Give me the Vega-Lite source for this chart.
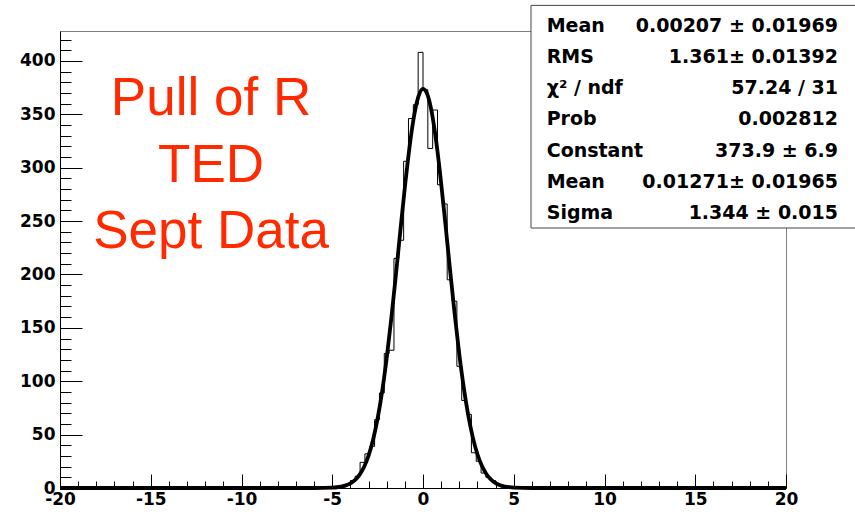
{
  "$schema": "https://vega.github.io/schema/vega-lite/v6.json",
  "width": 726,
  "height": 457,
  "autosize": "none",
  "padding": {"left": 60, "top": 31, "right": 69, "bottom": 27},
  "background": "white",
  "config": {
    "view": {"stroke": "#7f7f7f", "strokeWidth": 1},
    "axis": {"grid": false, "title": null, "domainColor": "#000", "tickColor": "#000", "labelColor": "#000", "labelFont": "DejaVu Sans", "labelFontWeight": "bold", "labelFontSize": 17}
  },
  "datasets": {
    "hist": [{"edge":-20,"count":0},{"edge":-4.8,"count":1},{"edge":-4.5333,"count":2},{"edge":-4.2667,"count":3},{"edge":-4.0,"count":7},{"edge":-3.7333,"count":11},{"edge":-3.4667,"count":24},{"edge":-3.2,"count":32},{"edge":-2.9333,"count":39},{"edge":-2.6667,"count":64},{"edge":-2.4,"count":89},{"edge":-2.1333,"count":126},{"edge":-1.8667,"count":129},{"edge":-1.6,"count":215},{"edge":-1.3333,"count":232},{"edge":-1.0667,"count":306},{"edge":-0.8,"count":346},{"edge":-0.5333,"count":359},{"edge":-0.2667,"count":408},{"edge":0,"count":373},{"edge":0.2667,"count":318},{"edge":0.5333,"count":354},{"edge":0.8,"count":284},{"edge":1.0667,"count":266},{"edge":1.3333,"count":195},{"edge":1.6,"count":175},{"edge":1.8667,"count":114},{"edge":2.1333,"count":82},{"edge":2.4,"count":69},{"edge":2.6667,"count":33},{"edge":2.9333,"count":25},{"edge":3.2,"count":14},{"edge":3.4667,"count":10},{"edge":3.7333,"count":7},{"edge":4.0,"count":3},{"edge":4.2667,"count":1},{"edge":4.5333,"count":1},{"edge":4.8,"count":0},{"edge":20,"count":0}],
    "fit": [{"x":-20,"y":0},{"x":-6,"y":0.02},{"x":-5,"y":0.36},{"x":-4.75,"y":0.70},{"x":-4.5,"y":1.33},{"x":-4.25,"y":2.45},{"x":-4,"y":4.34},{"x":-3.75,"y":7.43},{"x":-3.5,"y":12.29},{"x":-3.25,"y":19.64},{"x":-3,"y":30.31},{"x":-2.75,"y":45.2},{"x":-2.5,"y":65.12},{"x":-2.25,"y":90.63},{"x":-2,"y":121.84},{"x":-1.75,"y":158.2},{"x":-1.5,"y":198.46},{"x":-1.25,"y":240.5},{"x":-1,"y":281.5},{"x":-0.75,"y":318.3},{"x":-0.5,"y":347.66},{"x":-0.25,"y":366.83},{"x":0,"y":373.88},{"x":0.25,"y":368.12},{"x":0.5,"y":350.11},{"x":0.75,"y":321.67},{"x":1,"y":285.47},{"x":1.25,"y":244.76},{"x":1.5,"y":202.7},{"x":1.75,"y":162.15},{"x":2,"y":125.31},{"x":2.25,"y":93.55},{"x":2.5,"y":67.46},{"x":2.75,"y":46.99},{"x":3,"y":31.62},{"x":3.25,"y":20.55},{"x":3.5,"y":12.91},{"x":3.75,"y":7.83},{"x":4,"y":4.59},{"x":4.25,"y":2.6},{"x":4.5,"y":1.42},{"x":4.75,"y":0.75},{"x":5,"y":0.38},{"x":6,"y":0.02},{"x":20,"y":0}],
    "stats": [{"line":1,"stat":"Mean","value":"0.00207 ± 0.01969"},{"line":2,"stat":"RMS","value":"1.361± 0.01392"},{"line":3,"stat":"χ² / ndf","value":"57.24 / 31"},{"line":4,"stat":"Prob","value":"0.002812"},{"line":5,"stat":"Constant","value":"373.9 ± 6.9"},{"line":6,"stat":"Mean","value":"0.01271± 0.01965"},{"line":7,"stat":"Sigma","value":"1.344 ± 0.015"}]
  },
  "layer": [
    {
      "layer": [
        {
          "data": {"name": "hist"},
          "mark": {"type": "line", "interpolate": "step-after", "color": "#000", "strokeWidth": 1},
          "encoding": {
            "x": {"field": "edge", "type": "quantitative", "scale": {"domain": [-20, 20], "nice": false, "zero": false},
                  "axis": {"orient": "bottom", "values": [-20,-15,-10,-5,0,5,10,15,20], "tickSize": -14, "labelPadding": 17, "labelFlush": false,
                           "labelExpr": "datum.value < 0 ? '-' + abs(datum.value) : '' + datum.value"}},
            "y": {"field": "count", "type": "quantitative", "scale": {"domain": [0, 428], "nice": false},
                  "axis": {"orient": "left", "values": [0,50,100,150,200,250,300,350,400], "tickSize": -22, "labelPadding": 27}}
          }
        },
        {
          "data": {"name": "fit"},
          "mark": {"type": "line", "interpolate": "monotone", "color": "#000", "strokeWidth": 3.8},
          "encoding": {
            "x": {"field": "x", "type": "quantitative",
                  "axis": {"orient": "bottom", "values": [-20,-19,-18,-17,-16,-15,-14,-13,-12,-11,-10,-9,-8,-7,-6,-5,-4,-3,-2,-1,0,1,2,3,4,5,6,7,8,9,10,11,12,13,14,15,16,17,18,19,20], "tickSize": -7, "labels": false, "domain": false}},
            "y": {"field": "y", "type": "quantitative",
                  "axis": {"orient": "left", "values": [10,20,30,40,60,70,80,90,110,120,130,140,160,170,180,190,210,220,230,240,260,270,280,290,310,320,330,340,360,370,380,390,410,420], "tickSize": -11, "labels": false, "domain": false}}
          }
        },
        {
          "data": {"values": [{"note": "Pull of R\nTED\nSept Data"}]},
          "mark": {"type": "text", "font": "Liberation Sans", "fontSize": 53, "color": "#ff2a00", "align": "center", "baseline": "alphabetic", "lineBreak": "\n", "lineHeight": 66.5},
          "encoding": {
            "x": {"datum": -11.68, "axis": null},
            "y": {"datum": 349.3, "axis": null},
            "text": {"field": "note"}
          }
        },
        {
          "data": {"values": [{"box": "stats"}]},
          "mark": {"type": "rect", "fill": "white", "stroke": "#444", "strokeWidth": 1},
          "encoding": {
            "x": {"datum": 5.95, "axis": null},
            "x2": {"datum": 26},
            "y": {"datum": 243.5, "axis": null},
            "y2": {"datum": 452}
          }
        }
      ],
      "resolve": {"axis": {"x": "independent", "y": "independent"}}
    },
    {
      "data": {"name": "stats"},
      "encoding": {
        "y": {"field": "line", "type": "quantitative", "scale": {"domain": [0.984, 15.608], "reverse": true, "nice": false, "zero": false}, "axis": null}
      },
      "layer": [
        {
          "mark": {"type": "text", "font": "DejaVu Sans", "fontWeight": "bold", "fontSize": 19, "color": "#000", "align": "left", "baseline": "alphabetic"},
          "encoding": {"x": {"datum": 6.815, "axis": null}, "text": {"field": "stat"}}
        },
        {
          "mark": {"type": "text", "font": "DejaVu Sans", "fontWeight": "bold", "fontSize": 19, "color": "#000", "align": "right", "baseline": "alphabetic"},
          "encoding": {"x": {"datum": 22.865, "axis": null}, "text": {"field": "value"}}
        }
      ]
    }
  ],
  "resolve": {"scale": {"y": "independent"}, "axis": {"x": "independent", "y": "independent"}}
}
